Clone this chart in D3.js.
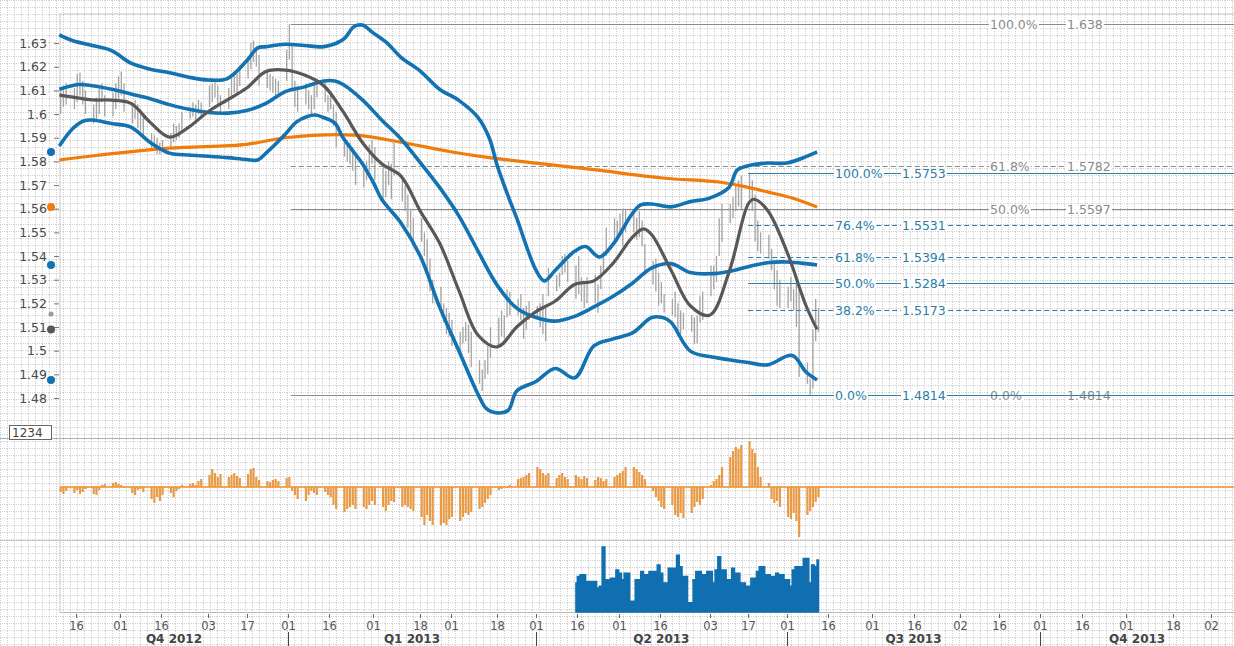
<!DOCTYPE html>
<html>
<head>
<meta charset="utf-8">
<script src="https://d3js.org/d3.v7.min.js"></script>
<style>
body { margin: 0; background: #fff; }
text { font-family: "DejaVu Sans", sans-serif; }
</style>
</head>
<body>
<div id="chart"></div>
<script>
// daily bars, one per weekday from 10 oct 2012 to 12 jul 2013
var barStart = "2012-10-10";
var barEnd = "2013-07-12";

var highs = [
  1.6105,1.6120,1.6130,
  1.6110,1.6170,1.6175,1.6140,1.6100,
  1.6040,1.6070,1.6110,1.6130,1.6080,
  1.6090,1.6130,1.6160,1.6180,1.6130,
  1.6050,1.6060,1.6040,1.6020,1.5990,
  1.5920,1.5910,1.5900,1.5880,1.5890,
  1.5920,1.5960,1.5950,1.5960,1.6010,
  1.6030,1.6050,1.6040,1.6060,1.6050,
  1.6120,1.6130,1.6140,1.6120,1.6080,
  1.6110,1.6160,1.6180,1.6170,1.6200,
  1.6240,1.6300,1.6310,1.6280,1.6250,
  1.6180,1.6170,1.6160,1.6150,1.6140,
  1.6270,1.6380,1.6300,1.6140,1.6120,
  1.6130,1.6100,1.6080,1.6130,1.6150,
  1.6140,1.6080,1.6090,1.6040,1.6010,
  1.5900,1.5890,1.5880,1.5860,1.5830,
  1.5780,1.5800,1.5870,1.5890,1.5860,
  1.5780,1.5760,1.5800,1.5790,1.5880,
  1.5740,1.5700,1.5660,1.5600,1.5560,
  1.5560,1.5500,1.5470,1.5390,1.5300,
  1.5270,1.5200,1.5180,1.5160,1.5130,
  1.5080,1.5100,1.5120,1.5110,1.5080,
  1.4960,1.4920,1.4960,1.5020,1.5100,
  1.5140,1.5170,1.5150,1.5260,1.5250,
  1.5220,1.5240,1.5180,1.5190,1.5210,
  1.5190,1.5200,1.5240,1.5180,1.5350,
  1.5320,1.5330,1.5400,1.5410,1.5380,
  1.5360,1.5400,1.5310,1.5280,1.5310,
  1.5320,1.5280,1.5360,1.5420,1.5520,
  1.5560,1.5550,1.5580,1.5600,1.5600,
  1.5580,1.5560,1.5590,1.5550,1.5450,
  1.5380,1.5390,1.5330,1.5290,1.5240,
  1.5220,1.5250,1.5200,1.5170,1.5160,
  1.5150,1.5140,1.5150,1.5230,1.5250,
  1.5360,1.5360,1.5400,1.5560,1.5620,
  1.5620,1.5650,1.5700,1.5720,1.5740,
  1.5753,1.5720,1.5660,1.5550,1.5500,
  1.5490,1.5430,1.5380,1.5340,1.5300,
  1.5270,1.5310,1.5260,1.5310,1.5260,
  1.4950,1.4880,1.5090,1.5220,1.5180
];

var lows = [
  1.6000,1.6030,1.6040,
  1.6020,1.6050,1.6080,1.6040,1.6000,
  1.5960,1.5980,1.6000,1.6050,1.5990,
  1.5990,1.6020,1.6060,1.6080,1.6010,
  1.5960,1.5980,1.5940,1.5930,1.5900,
  1.5850,1.5850,1.5830,1.5830,1.5840,
  1.5860,1.5880,1.5890,1.5900,1.5930,
  1.5980,1.5990,1.5960,1.6000,1.5990,
  1.6030,1.6050,1.6070,1.6040,1.6000,
  1.6020,1.6060,1.6090,1.6080,1.6120,
  1.6150,1.6190,1.6220,1.6200,1.6120,
  1.6110,1.6100,1.6090,1.6070,1.6080,
  1.6140,1.6230,1.6100,1.6030,1.6010,
  1.6040,1.6020,1.6000,1.6020,1.6070,
  1.6050,1.6010,1.6020,1.5950,1.5860,
  1.5820,1.5800,1.5790,1.5760,1.5700,
  1.5690,1.5720,1.5760,1.5790,1.5720,
  1.5640,1.5650,1.5700,1.5640,1.5740,
  1.5630,1.5590,1.5520,1.5470,1.5450,
  1.5460,1.5400,1.5330,1.5250,1.5200,
  1.5160,1.5120,1.5070,1.5060,1.5020,
  1.4990,1.5030,1.5040,1.4990,1.4930,
  1.4860,1.4830,1.4880,1.4900,1.4970,
  1.5020,1.5060,1.5050,1.5140,1.5150,
  1.5150,1.5130,1.5050,1.5090,1.5130,
  1.5140,1.5100,1.5070,1.5040,1.5230,
  1.5250,1.5270,1.5320,1.5330,1.5290,
  1.5220,1.5240,1.5210,1.5180,1.5200,
  1.5200,1.5160,1.5260,1.5330,1.5400,
  1.5450,1.5460,1.5490,1.5440,1.5500,
  1.5500,1.5470,1.5480,1.5440,1.5320,
  1.5280,1.5250,1.5190,1.5200,1.5160,
  1.5150,1.5140,1.5060,1.5070,1.5090,
  1.5080,1.5030,1.5030,1.5120,1.5130,
  1.5230,1.5260,1.5290,1.5400,1.5460,
  1.5540,1.5560,1.5590,1.5610,1.5600,
  1.5640,1.5590,1.5460,1.5420,1.5410,
  1.5390,1.5340,1.5260,1.5190,1.5180,
  1.5180,1.5210,1.5170,1.5100,1.4890,
  1.4860,1.4814,1.4840,1.5040,1.5080
];
var lastClose = 1.5155;

// oscillator histogram, same weekdays as the bars
var hist = [
  -5,-7,-4,
  -6,-3,-7,-5,-2,
  -7,-8,-3,2,3,
  4,5,3,2,-1,
  -6,-8,-3,-2,-5,
  -12,-16,-10,-14,-8,
  -6,-10,-4,-2,2,
  3,4,2,6,8,
  12,18,14,10,13,
  10,12,14,11,9,
  13,18,19,10,7,
  6,5,7,8,6,
  9,10,-4,-8,-12,
  -14,-8,-4,-6,-8,
  -5,-8,-10,-18,-22,
  -25,-22,-20,-18,-22,
  -20,-22,-18,-14,-18,
  -20,-24,-18,-14,-15,
  -20,-18,-20,-22,-24,
  -30,-38,-28,-34,-38,
  -38,-36,-38,-32,-30,
  -34,-30,-26,-28,-25,
  -22,-20,-16,-12,-8,
  -3,-2,1,-1,2,
  8,9,10,12,14,
  20,18,14,12,14,
  9,12,14,10,8,
  12,10,8,11,9,
  7,10,9,6,8,
  10,12,14,16,20,
  20,18,15,12,8,
  -4,-10,-14,-20,-22,
  -18,-28,-30,-26,-31,
  -26,-20,-15,-18,-12,
  2,6,8,12,20,
  30,36,40,38,42,
  46,38,34,20,10,
  4,-12,-16,-14,-20,
  -30,-32,-26,-34,-50,
  -28,-24,-20,-15,-10
];

// volume, weekdays from 15 apr 2013
var volStart = "2013-04-15";
var volume = [
  88,108,113,113,93,93,73,78,198,98,
  103,128,118,98,118,33,98,98,123,113,
  123,123,143,118,88,133,133,173,138,108,
  28,98,123,123,113,123,88,128,168,128,
  98,133,118,118,88,78,103,103,123,138,
  113,108,108,118,113,98,78,128,138,138,
  163,88,143,138,158
];

// short moving average (dark grey)
var maLine = [
  ["2012-10-10",1.6080],["2012-10-15",1.6072],["2012-10-22",1.6060],["2012-10-29",1.6059],
  ["2012-11-05",1.6045],["2012-11-12",1.5965],["2012-11-19",1.5903],["2012-11-26",1.5945],
  ["2012-12-03",1.6010],["2012-12-10",1.6060],["2012-12-17",1.6110],["2012-12-24",1.6180],
  ["2012-12-31",1.6186],["2013-01-07",1.6165],["2013-01-14",1.6120],["2013-01-21",1.6010],
  ["2013-01-28",1.5880],["2013-02-04",1.5790],["2013-02-11",1.5738],["2013-02-18",1.5590],
  ["2013-02-25",1.5455],["2013-03-04",1.5255],["2013-03-11",1.5065],["2013-03-18",1.5016],
  ["2013-03-25",1.5100],["2013-04-01",1.5165],["2013-04-08",1.5210],["2013-04-15",1.5280],
  ["2013-04-22",1.5295],["2013-04-29",1.5370],["2013-05-06",1.5480],["2013-05-10",1.5515],
  ["2013-05-13",1.5490],["2013-05-20",1.5340],["2013-05-27",1.5190],["2013-06-03",1.5150],
  ["2013-06-10",1.5330],["2013-06-17",1.5620],["2013-06-19",1.5640],["2013-06-24",1.5594],
  ["2013-07-01",1.5420],["2013-07-08",1.5190],["2013-07-12",1.5090]
];

var upperBand = [
  ["2012-10-10",1.6335],["2012-10-15",1.6310],["2012-10-22",1.6290],["2012-10-29",1.6268],
  ["2012-11-05",1.6215],["2012-11-12",1.6190],["2012-11-19",1.6175],["2012-11-26",1.6156],
  ["2012-12-03",1.6144],["2012-12-10",1.6150],["2012-12-17",1.6225],["2012-12-21",1.6280],
  ["2012-12-24",1.6285],["2012-12-31",1.6295],["2013-01-07",1.6290],["2013-01-14",1.6285],
  ["2013-01-21",1.6315],["2013-01-25",1.6370],["2013-01-28",1.6376],["2013-02-01",1.6342],
  ["2013-02-06",1.6300],["2013-02-11",1.6240],["2013-02-18",1.6182],["2013-02-25",1.6105],
  ["2013-03-04",1.6058],["2013-03-11",1.5985],["2013-03-15",1.5900],["2013-03-18",1.5780],
  ["2013-03-22",1.5650],["2013-03-25",1.5560],["2013-04-01",1.5340],["2013-04-04",1.5295],
  ["2013-04-08",1.5340],["2013-04-15",1.5420],["2013-04-19",1.5440],["2013-04-24",1.5396],
  ["2013-04-29",1.5450],["2013-05-06",1.5580],["2013-05-09",1.5616],["2013-05-13",1.5620],
  ["2013-05-20",1.5608],["2013-05-27",1.5630],["2013-06-03",1.5645],["2013-06-10",1.5690],
  ["2013-06-13",1.5763],["2013-06-17",1.5782],["2013-06-24",1.5793],["2013-07-01",1.5793],
  ["2013-07-08",1.5820],["2013-07-12",1.5840]
];

var middleBand = [
  ["2012-10-10",1.6105],["2012-10-17",1.6125],["2012-10-22",1.6120],["2012-10-29",1.6105],
  ["2012-11-05",1.6085],["2012-11-12",1.6065],["2012-11-19",1.6040],["2012-11-26",1.6020],
  ["2012-12-03",1.6007],["2012-12-10",1.6004],["2012-12-17",1.6015],["2012-12-24",1.6045],
  ["2012-12-31",1.6095],["2013-01-07",1.6115],["2013-01-14",1.6140],["2013-01-18",1.6140],
  ["2013-01-21",1.6125],["2013-01-28",1.6060],["2013-02-04",1.5975],["2013-02-11",1.5895],
  ["2013-02-18",1.5795],["2013-02-25",1.5690],["2013-03-04",1.5570],["2013-03-11",1.5420],
  ["2013-03-18",1.5275],["2013-03-25",1.5180],["2013-04-01",1.5140],["2013-04-08",1.5125],
  ["2013-04-15",1.5145],["2013-04-22",1.5185],["2013-04-29",1.5230],["2013-05-06",1.5285],
  ["2013-05-13",1.5350],["2013-05-20",1.5368],["2013-05-27",1.5330],["2013-06-03",1.5325],
  ["2013-06-10",1.5335],["2013-06-17",1.5355],["2013-06-24",1.5372],["2013-07-01",1.5375],
  ["2013-07-08",1.5368],["2013-07-12",1.5362]
];

var lowerBand = [
  ["2012-10-10",1.5865],["2012-10-15",1.5940],["2012-10-19",1.5972],["2012-10-22",1.5975],
  ["2012-10-29",1.5960],["2012-11-05",1.5945],["2012-11-12",1.5880],["2012-11-19",1.5835],
  ["2012-11-26",1.5827],["2012-12-03",1.5822],["2012-12-10",1.5816],["2012-12-17",1.5808],
  ["2012-12-21",1.5806],["2012-12-24",1.5835],["2012-12-31",1.5915],["2013-01-04",1.5966],
  ["2013-01-08",1.5990],["2013-01-11",1.5996],["2013-01-14",1.5985],["2013-01-18",1.5962],
  ["2013-01-21",1.5900],["2013-01-28",1.5790],["2013-02-01",1.5710],["2013-02-04",1.5640],
  ["2013-02-11",1.5540],["2013-02-18",1.5400],["2013-02-25",1.5185],["2013-03-04",1.5000],
  ["2013-03-11",1.4815],["2013-03-14",1.4755],["2013-03-18",1.4737],["2013-03-22",1.4749],
  ["2013-03-25",1.4830],["2013-04-01",1.4870],["2013-04-08",1.4925],["2013-04-15",1.4885],
  ["2013-04-22",1.5020],["2013-04-29",1.5050],["2013-05-06",1.5075],["2013-05-13",1.5140],
  ["2013-05-17",1.5140],["2013-05-20",1.5120],["2013-05-27",1.4998],["2013-06-03",1.4975],
  ["2013-06-10",1.4962],["2013-06-17",1.4950],["2013-06-24",1.4940],["2013-07-03",1.4980],
  ["2013-07-08",1.4910],["2013-07-12",1.4876]
];

// long moving average (orange)
var longMa = [
  ["2012-10-10",1.5806],["2012-10-24",1.5826],["2012-11-19",1.5856],["2012-12-17",1.5872],
  ["2012-12-31",1.5900],["2013-01-25",1.5911],["2013-02-11",1.5881],["2013-03-01",1.5841],
  ["2013-03-15",1.5816],["2013-04-01",1.5793],["2013-04-22",1.5765],["2013-05-17",1.5730],
  ["2013-06-07",1.5712],["2013-06-17",1.5690],["2013-06-24",1.5671],["2013-07-03",1.5645],
  ["2013-07-12",1.5607]
];

// fibonacci retracements
var fibGrayStart = "2013-01-02";
var fibGrayPct = ["100.0%","61.8%","50.0%","0.0%"];
var fibGrayVals = [1.638, 1.5782, 1.5597, 1.4814];
var fibGrayText = ["1.638","1.5782","1.5597","1.4814"];
var fibBlueStart = "2013-06-17";
var fibBluePct = ["100.0%","76.4%","61.8%","50.0%","38.2%","0.0%"];
var fibBlueVals = [1.5753, 1.5531, 1.5394, 1.5284, 1.5173, 1.4814];
var fibBlueText = ["1.5753","1.5531","1.5394","1.5284","1.5173","1.4814"];

var yTicks = [1.48,1.49,1.5,1.51,1.52,1.53,1.54,1.55,1.56,1.57,1.58,1.59,1.6,1.61,1.62,1.63];
var dayTicks = ["2012-10-16","2012-11-01","2012-11-16","2012-12-03","2012-12-17","2013-01-01",
  "2013-01-16","2013-02-01","2013-02-18","2013-03-01","2013-03-18","2013-04-01","2013-04-16",
  "2013-05-01","2013-05-16","2013-06-03","2013-06-17","2013-07-01","2013-07-16","2013-08-01",
  "2013-08-16","2013-09-02","2013-09-16","2013-10-01","2013-10-16","2013-11-01","2013-11-18",
  "2013-12-02"];
var quarterLabels = ["Q4 2012","Q1 2013","Q2 2013","Q3 2013","Q4 2013"];
var quarterStarts = ["2012-10-01","2013-01-01","2013-04-01","2013-07-01","2013-10-01","2014-01-01"];

var svgWidth = 1234;
var svgHeight = 646;
var plotLeft = 60, plotRight = 1234, plotTop = 14, mainBottom = 438;
var histTop = 440, histBottom = 540, volTop = 543, volBottom = 612;

var parse = d3.timeParse("%Y-%m-%d");

var svg = d3.select("#chart")
  .append("svg")
  .attr("width", svgWidth)
  .attr("height", svgHeight);

// dotted background grid
var pat = svg.append("defs").append("pattern")
  .attr("id", "dots")
  .attr("width", 7)
  .attr("height", 7)
  .attr("patternUnits", "userSpaceOnUse");
pat.append("path").attr("d", "M0,0.5H7")
  .attr("stroke", "#d2d2d2").attr("stroke-dasharray", "1,1");
pat.append("path").attr("d", "M0.5,1V7")
  .attr("stroke", "#d2d2d2").attr("stroke-dasharray", "1,1");
svg.append("rect")
  .attr("width", svgWidth).attr("height", svgHeight)
  .attr("fill", "url(#dots)");

// scales
var x = d3.scaleTime()
  .domain([parse("2013-01-01"), parse("2013-04-01")])
  .range([288, 536]);
var y = d3.scaleLinear()
  .domain([1.4631, 1.6423])
  .range([mainBottom, plotTop]);
var yHist = d3.scaleLinear().domain([-50, 50]).range([histBottom - 3, histTop - 3]);
var yVol = d3.scaleLinear().domain([0, 210]).range([volBottom, volTop]);

var dayW = x(parse("2013-01-08")) - x(parse("2013-01-07"));
var weekdays = function(a, b) {
  return d3.timeDay.range(parse(a), d3.timeDay.offset(parse(b), 1))
    .filter(d => d.getDay() != 0 && d.getDay() != 6);
};
var barDates = weekdays(barStart, barEnd);
var volDates = weekdays(volStart, barEnd);
var bx = d => x(d) + dayW / 2;

// frame lines
svg.append("line").attr("x1", plotLeft).attr("x2", plotRight)
  .attr("y1", plotTop).attr("y2", plotTop).attr("stroke", "#c8c8c8");
svg.append("line").attr("x1", plotLeft).attr("x2", plotLeft)
  .attr("y1", plotTop).attr("y2", volBottom).attr("stroke", "#c8c8c8");
svg.append("line").attr("x1", 0).attr("x2", plotRight)
  .attr("y1", mainBottom + 0.5).attr("y2", mainBottom + 0.5).attr("stroke", "#b0b0b0");
svg.append("line").attr("x1", 0).attr("x2", plotRight)
  .attr("y1", histBottom + 0.5).attr("y2", histBottom + 0.5).attr("stroke", "#c8c8c8");
svg.append("line").attr("x1", plotLeft).attr("x2", plotRight)
  .attr("y1", volBottom + 0.5).attr("y2", volBottom + 0.5).attr("stroke", "#b8b8b8");

// y axis
var yAxis = d3.axisLeft(y)
  .tickValues(yTicks)
  .tickFormat(d3.format(".2~f"))
  .tickSize(5)
  .tickPadding(7);
var yAxisG = svg.append("g")
  .attr("transform", `translate(${plotLeft - 1}, 0)`)
  .call(yAxis);
yAxisG.select(".domain").remove();
yAxisG.selectAll("line").attr("stroke", "#777");
yAxisG.selectAll("text")
  .attr("font-size", "12.5px")
  .attr("fill", "#4a4a4a")
  .style("font-family", "DejaVu Sans, sans-serif");

// fibonacci lines
function drawFib(start, pcts, vals, texts, color, pctX, valX) {
  var x0 = x(parse(start));
  pcts.forEach(function(p, i) {
    var yy = Math.round(y(vals[i])) + 0.5;
    var dashed = (p == "61.8%" || p == "76.4%" || p == "38.2%");
    svg.append("line")
      .attr("x1", x0).attr("x2", plotRight)
      .attr("y1", yy).attr("y2", yy)
      .attr("stroke", color)
      .attr("stroke-width", 1.2)
      .attr("stroke-dasharray", dashed ? "5,3" : null);
    [[p, pctX], [texts[i], valX]].forEach(function(t) {
      var txt = svg.append("text")
        .attr("x", t[1]).attr("y", yy)
        .attr("dy", "0.36em")
        .attr("font-size", "12.5px")
        .attr("fill", color)
        .text(t[0]);
      var bb = txt.node().getBBox();
      svg.insert("rect", function() { return txt.node(); })
        .attr("x", bb.x - 1).attr("y", yy - 5)
        .attr("width", bb.width + 2).attr("height", 10)
        .attr("fill", "#fff");
    });
  });
}
drawFib(fibGrayStart, fibGrayPct, fibGrayVals, fibGrayText, "#8a8a8a", 990, 1067);

// price bars
svg.append("g").selectAll("line")
  .data(barDates)
  .enter()
  .append("line")
  .attr("x1", d => bx(d)).attr("x2", d => bx(d))
  .attr("y1", (d, i) => y(highs[i]))
  .attr("y2", (d, i) => y(lows[i]))
  .attr("stroke", "#a4a4a4")
  .attr("stroke-width", 1.3);

// indicator lines
var line = d3.line()
  .x(d => x(parse(d[0])))
  .y(d => y(d[1]))
  .curve(d3.curveCatmullRom.alpha(0.5));

svg.append("path").datum(longMa).attr("d", line)
  .attr("fill", "none").attr("stroke", "#f07c0a").attr("stroke-width", 3.2);
[upperBand, middleBand, lowerBand].forEach(function(b) {
  svg.append("path").datum(b).attr("d", line)
    .attr("fill", "none").attr("stroke", "#1272b2").attr("stroke-width", 3.6);
});
svg.append("path").datum(maLine).attr("d", line)
  .attr("fill", "none").attr("stroke", "#585858").attr("stroke-width", 3.2);

drawFib(fibBlueStart, fibBluePct, fibBlueVals, fibBlueText, "#2c7ea6", 835, 902);

// last value markers on the axis
var markers = [
  [upperBand[upperBand.length - 1][1], "#1272b2", 4],
  [longMa[longMa.length - 1][1], "#f07c0a", 4],
  [middleBand[middleBand.length - 1][1], "#1272b2", 4],
  [lastClose, "#999", 2.5],
  [maLine[maLine.length - 1][1], "#585858", 4],
  [lowerBand[lowerBand.length - 1][1], "#1272b2", 4]
];
svg.append("g").selectAll("circle")
  .data(markers)
  .enter()
  .append("circle")
  .attr("cx", 51)
  .attr("cy", d => y(d[0]))
  .attr("r", d => d[2])
  .attr("fill", d => d[1]);

// small date box
svg.append("rect").attr("x", 9.5).attr("y", 425.5).attr("width", 42).attr("height", 14)
  .attr("fill", "#fff").attr("stroke", "#666");
svg.append("text").attr("x", 12).attr("y", 437)
  .attr("font-size", "12px").attr("fill", "#444").text("1234");

// histogram
svg.append("line").attr("x1", plotLeft).attr("x2", plotRight)
  .attr("y1", yHist(0)).attr("y2", yHist(0))
  .attr("stroke", "#f08a20").attr("stroke-width", 1.5);
svg.append("g").selectAll("rect")
  .data(barDates)
  .enter()
  .append("rect")
  .attr("x", d => bx(d) - 1.1)
  .attr("width", 2.2)
  .attr("y", (d, i) => Math.min(yHist(0), yHist(hist[i])))
  .attr("height", (d, i) => Math.abs(yHist(hist[i]) - yHist(0)))
  .attr("fill", "#e99a45");

// volume, drawn as a stepped area so the weekends close up
var volArea = d3.area()
  .x(d => bx(d[0]))
  .y0(yVol(0))
  .y1(d => yVol(d[1]))
  .curve(d3.curveStep);
var volData = volDates.map((d, i) => [d, volume[i]]);
svg.append("path")
  .datum(volData)
  .attr("d", volArea)
  .attr("fill", "#0f6fb0")
  .attr("stroke", "#0f6fb0")
  .attr("stroke-width", 1.5);

// bottom axis
var fmtDay = d3.timeFormat("%d");
var tickG = svg.append("g");
dayTicks.forEach(function(t) {
  var xx = Math.round(x(parse(t))) + 0.5;
  tickG.append("line").attr("x1", xx).attr("x2", xx)
    .attr("y1", volBottom + 2).attr("y2", volBottom + 6).attr("stroke", "#666");
  tickG.append("text").attr("x", xx).attr("y", 630)
    .attr("text-anchor", "middle")
    .attr("font-size", "11.5px").attr("fill", "#555")
    .text(fmtDay(parse(t)));
});
quarterLabels.forEach(function(q, i) {
  var xs = x(parse(quarterStarts[i]));
  var xe = x(parse(quarterStarts[i + 1]));
  if (xs > plotLeft) {
    tickG.append("line").attr("x1", Math.round(xs) + 0.5).attr("x2", Math.round(xs) + 0.5)
      .attr("y1", 632).attr("y2", 646).attr("stroke", "#444");
  }
  var mid = (Math.max(xs, plotLeft) + Math.min(xe, plotRight)) / 2;
  tickG.append("text").attr("x", mid).attr("y", 643)
    .attr("text-anchor", "middle")
    .attr("font-size", "12px").attr("font-weight", "bold").attr("fill", "#444")
    .text(q);
});
</script>
</body>
</html>
